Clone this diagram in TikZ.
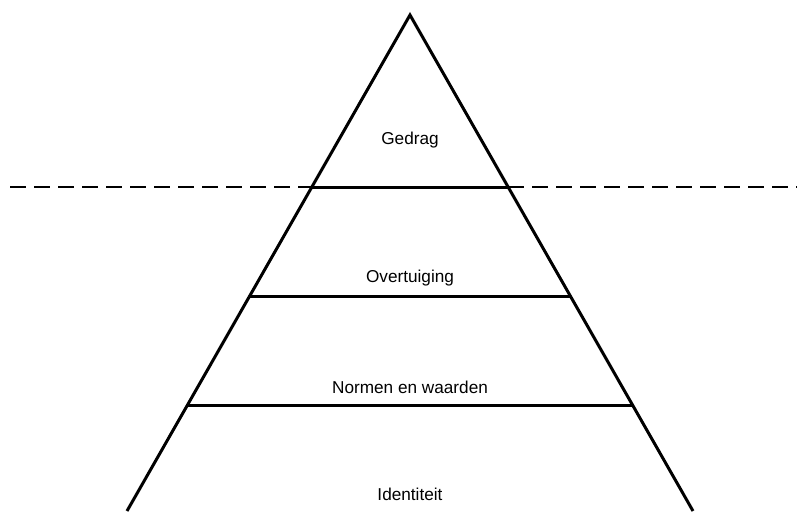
\documentclass[tikz,border=0pt]{standalone}
\usepackage{fontspec}
\setmainfont{Liberation Sans}
\begin{document}
\begin{tikzpicture}
  [x=1pt,y=-1pt,every node/.style={font=\fontsize{17.2}{20}\selectfont}]
  \tikzstyle{side} = [line width=3pt]
  \tikzstyle{sealevel} = [line width=1.8pt,dash pattern=on 16pt off 8pt]
  \useasboundingbox (0,0) rectangle (797,511);
  \coordinate (top) at (410,15);
  \coordinate (bl) at (127,511);
  \coordinate (br) at (693,511);
  \coordinate (l1) at (311.9,187);
  \coordinate (r1) at (508.1,187);
  \coordinate (l2) at (249.7,296);
  \coordinate (r2) at (570.3,296);
  \coordinate (l3) at (187.5,405);
  \coordinate (r3) at (632.5,405);
  \coordinate (w) at (10,187);
  \coordinate (e) at (797,187);

  \draw[side] (bl) -- (top) -- (br);
  \foreach \from/\to in {l1/r1,l2/r2,l3/r3}
    \draw[side] (\from) -- (\to);
  \draw[sealevel] (w) -- (l1);
  \draw[sealevel] (r1) -- (e);

  \node (gedrag) at (410,140) {Gedrag};
  \node (overtuiging) at (410,278) {Overtuiging};
  \node (normen) at (410,387) {Normen en waarden};
  \node (identiteit) at (410,494) {Identiteit};
\end{tikzpicture}
\end{document}
